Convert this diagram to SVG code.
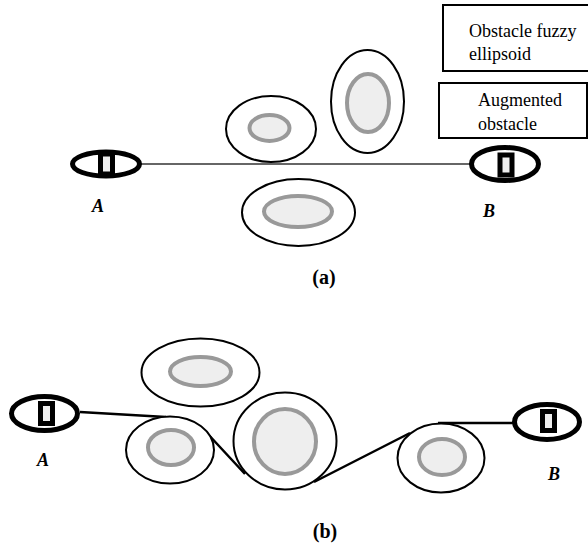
<svg xmlns="http://www.w3.org/2000/svg" width="588" height="546" viewBox="0 0 588 546">
<style>
.aug{fill:#fff;stroke:#000;stroke-width:2}
.fz{fill:#eee;stroke:#999;stroke-width:4}
.ep{fill:#fff;stroke:#000;stroke-width:5}
.epr{fill:#eee;stroke:#000;stroke-width:5}
.lbl{font-family:"Liberation Serif",serif;font-size:18px;font-weight:bold;font-style:italic}
.cap{font-family:"Liberation Serif",serif;font-size:20px;font-weight:bold;text-anchor:middle}
.leg{font-family:"Liberation Serif",serif;font-size:18px}
.box{fill:#fff;stroke:#000;stroke-width:2}
.path{fill:none;stroke:#000;stroke-width:2.5}
</style>
<rect width="588" height="546" fill="#fff"/>
<g id="connectors">
<line x1="140" y1="164" x2="472" y2="164" stroke="#333" stroke-width="1.5"/>
<path class="path" d="M80 412 L166 417 M206 432 L245 474 M314 482 L410 433 M438 423 L514 423"/>
</g>
<g id="legend-fuzzy"><rect class="box" x="443" y="5" width="150" height="66"/><text class="leg" x="469" y="37">Obstacle fuzzy</text><text class="leg" x="469" y="60">ellipsoid</text></g>
<g id="legend-augmented"><rect class="box" x="439" y="83" width="148" height="55"/><text class="leg" x="478" y="106">Augmented</text><text class="leg" x="478" y="130">obstacle</text></g>
<g id="a-start"><ellipse class="ep" cx="106" cy="164" rx="33.5" ry="12"/><rect class="epr" x="100.5" y="154" width="12" height="20"/></g>
<g id="a-goal"><ellipse class="ep" cx="505" cy="164" rx="33.5" ry="16.5"/><rect class="epr" x="500" y="155" width="12" height="20"/></g>
<text class="lbl" x="92" y="212">A</text>
<text class="lbl" x="483" y="217">B</text>
<g id="a-obs1"><ellipse class="aug" cx="271" cy="129" rx="45" ry="33"/><ellipse class="fz" cx="269.5" cy="128" rx="20" ry="13"/></g>
<g id="a-obs2"><ellipse class="aug" cx="367.5" cy="101.5" rx="36.5" ry="51.5"/><ellipse class="fz" cx="368" cy="103" rx="21" ry="29"/></g>
<g id="a-obs3"><ellipse class="aug" cx="298.5" cy="212.5" rx="56.5" ry="33.5"/><ellipse class="fz" cx="298" cy="211.5" rx="34" ry="15.5"/></g>
<text class="cap" x="324" y="284">(a)</text>
<g id="b-obs1"><ellipse class="aug" cx="200.5" cy="372.5" rx="59" ry="34"/><ellipse class="fz" cx="200.5" cy="371.5" rx="30.5" ry="14.5"/></g>
<g id="b-obs2"><ellipse class="aug" cx="170" cy="450" rx="44" ry="33.5"/><ellipse class="fz" cx="171" cy="447.5" rx="23" ry="17.5"/></g>
<g id="b-obs3"><ellipse class="aug" cx="285" cy="441" rx="51.5" ry="48.5"/><ellipse class="fz" cx="285" cy="441.5" rx="31" ry="32.5"/></g>
<g id="b-obs4"><ellipse class="aug" cx="441" cy="458" rx="43.5" ry="34.5"/><ellipse class="fz" cx="442" cy="457" rx="23" ry="18"/></g>
<g id="b-start"><ellipse class="ep" cx="44.5" cy="413.5" rx="33" ry="17"/><rect class="epr" x="40.5" y="403.5" width="12" height="20"/></g>
<g id="b-goal"><ellipse class="ep" cx="547" cy="422" rx="32.5" ry="17.5"/><rect class="epr" x="542.5" y="411.5" width="12" height="19"/></g>
<text class="lbl" x="37" y="466">A</text>
<text class="lbl" x="548" y="480">B</text>
<text class="cap" x="325" y="538">(b)</text>
</svg>
